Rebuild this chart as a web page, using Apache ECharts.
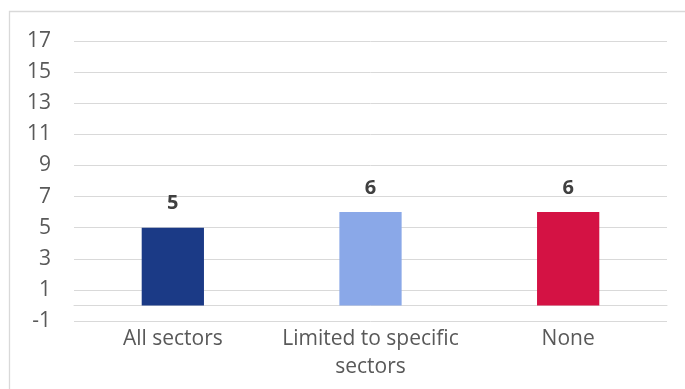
<!DOCTYPE html>
<html>
<head>
<meta charset="utf-8">
<style>
  html, body { margin: 0; padding: 0; background: #ffffff; }
  #chart { width: 685px; height: 389px; }
</style>
<script src="https://cdn.jsdelivr.net/npm/echarts@6/dist/echarts.min.js"></script>
</head>
<body>
<div id="chart"></div>
<script>
const categories = ['All sectors', 'Limited to specific\nsectors', 'None'];
const values = [5, 6, 6];
const barColors = ['#1b3a86', '#8aa8e8', '#d41244'];
const tickLabels = ['-1', '1', '3', '5', '7', '9', '11', '13', '15', '17'];

const FONT = 'Open Sans';
const chart = echarts.init(document.getElementById('chart'), null, { renderer: 'canvas' });

chart.setOption({
  animation: false,
  backgroundColor: '#ffffff',
  graphic: [{
    type: 'rect',
    shape: { x: 9.5, y: 11.5, width: 720, height: 420 },
    style: { fill: 'none', stroke: '#d9d9d9', lineWidth: 1.3 },
    silent: true,
    z: -1
  }],
  grid: { left: 74, right: 18, top: 41, bottom: 68, containLabel: false, outerBoundsMode: 'none' },
  xAxis: {
    type: 'category',
    data: categories,
    axisLine: { show: true, onZero: true, onZeroAxisIndex: 1, lineStyle: { color: '#d9d9d9', width: 1 } },
    axisTick: { show: false },
    axisLabel: {
      color: '#595959', fontFamily: FONT, fontSize: 21, lineHeight: 28, margin: 4, interval: 0
    },
    splitLine: { show: false }
  },
  yAxis: [{
    type: 'value',
    min: 0,
    max: (tickLabels.length - 1) * 2,
    interval: 2,
    axisLine: { show: false },
    axisTick: { show: false },
    axisLabel: {
      color: '#595959', fontFamily: FONT, fontSize: 21, margin: 23,
      formatter: function (v) { return tickLabels[Math.round(v / 2)]; }
    },
    splitLine: { show: true, lineStyle: { color: '#d9d9d9', width: 1 } }
  }, {
    type: 'value',
    min: Number(tickLabels[0]),
    max: Number(tickLabels[tickLabels.length - 1]),
    show: false,
    splitLine: { show: false }
  }],
  series: [{
    type: 'bar',
    yAxisIndex: 1,
    data: values.map(function (v, i) { return { value: v, itemStyle: { color: barColors[i] } }; }),
    barWidth: '31.5%',
    label: {
      show: true, position: 'top', distance: 14,
      color: '#404040', fontFamily: FONT, fontSize: 20, fontWeight: 'bold'
    }
  }]
});
</script>
</body>
</html>
